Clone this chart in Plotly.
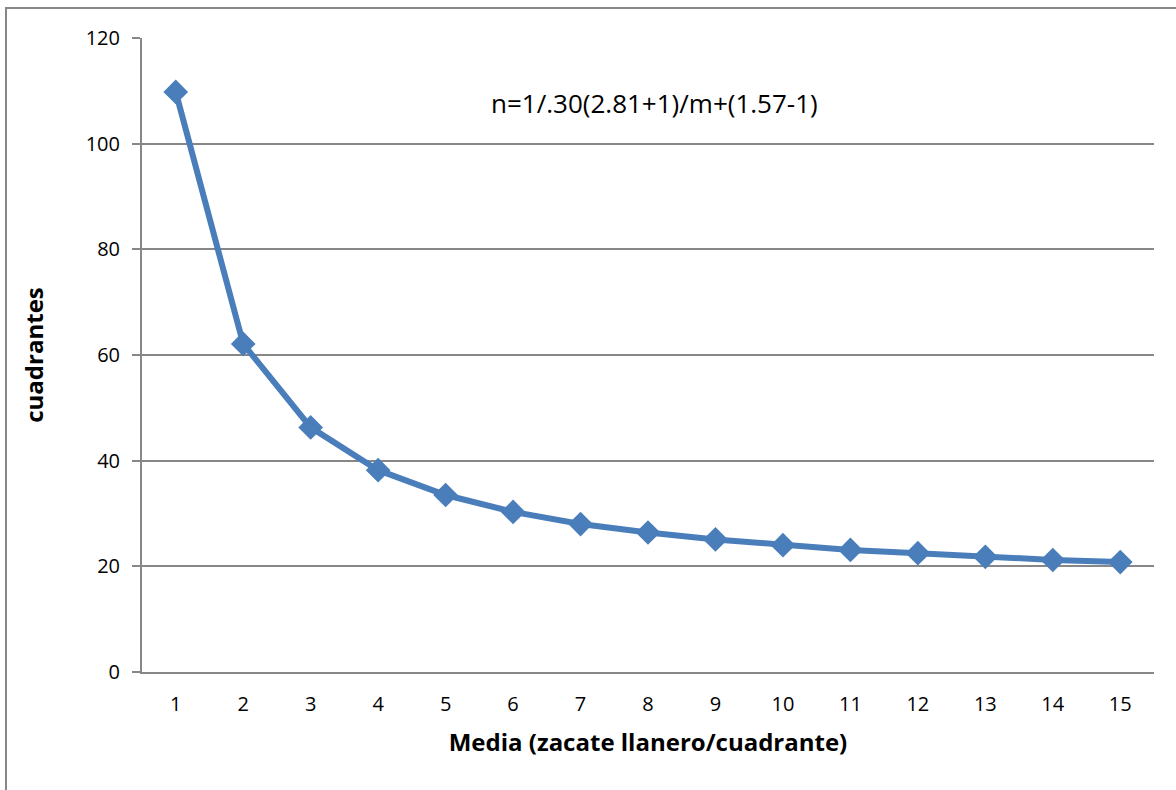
import plotly.graph_objects as go

# Media (zacate llanero/cuadrante) and required number of quadrats
media = [1, 2, 3, 4, 5, 6, 7, 8, 9, 10, 11, 12, 13, 14, 15]
cuadrantes = [109.8, 62.1, 46.3, 38.2, 33.5, 30.3, 28.0, 26.4, 25.1, 24.0,
              23.1, 22.5, 21.8, 21.2, 20.8]
y_ticks = [0, 20, 40, 60, 80, 100, 120]
formula = "n=1/.30(2.81+1)/m+(1.57-1)"

FONT = "Open Sans"
GRAY = "#878787"
BLUE = "#4A7EBB"

fig = go.Figure()
fig.add_trace(go.Scatter(
    x=media, y=cuadrantes,
    mode="lines+markers",
    line=dict(color=BLUE, width=6),
    marker=dict(symbol="diamond", size=19, color=BLUE),
    showlegend=False,
))

fig.update_layout(
    width=1176, height=790,
    margin=dict(l=142, r=22, t=38, b=118),
    paper_bgcolor="white", plot_bgcolor="white",
    font=dict(family=FONT, color="black", size=20),
    xaxis=dict(
        range=[0.5, 15.5], tickmode="array", tickvals=media,
        ticktext=[str(v) for v in media],
        showgrid=False, zeroline=False,
        showline=True, linecolor=GRAY, linewidth=2,
        ticks="", ticklabelstandoff=13,
        tickfont=dict(family=FONT, size=20),
        title=dict(text="<b>Media (zacate llanero/cuadrante)</b>",
                   font=dict(family=FONT, size=24), standoff=18),
    ),
    yaxis=dict(
        range=[0, 120], tickmode="array", tickvals=y_ticks,
        showgrid=True, gridcolor=GRAY, gridwidth=1.5,
        zeroline=False,
        showline=True, linecolor=GRAY, linewidth=2,
        ticks="outside", ticklen=8, tickcolor=GRAY, tickwidth=1.5,
        ticklabelstandoff=8,
        tickfont=dict(family=FONT, size=20),
        title=dict(text="<b>cuadrantes</b>",
                   font=dict(family=FONT, size=24), standoff=35),
    ),
    annotations=[dict(
        text=formula, xref="paper", yref="paper",
        x=(654 - 142) / 1012, y=(672 - 103) / 634,
        xanchor="center", yanchor="middle",
        showarrow=False, font=dict(family=FONT, size=26),
    )],
    shapes=[dict(
        type="rect", xref="paper", yref="paper",
        x0=(6 - 142) / 1012, y0=-1, x1=2, y1=(672 - 8) / 634,
        line=dict(color=GRAY, width=2), layer="below",
    )],
)

fig.write_html("out.html")
